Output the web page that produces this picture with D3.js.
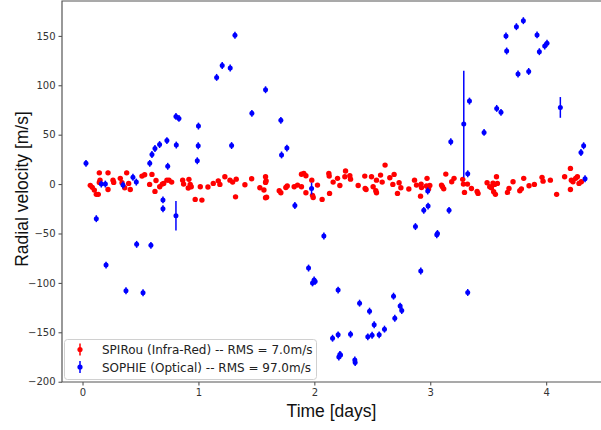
<!DOCTYPE html>
<html>
<head>
<meta charset="utf-8">
<script src="https://cdn.jsdelivr.net/npm/d3@7"></script>
<style>
    body { margin: 0; background: #fff; }
    #rv-graph { width: 601px; height: 430px; }
</style>
</head>
<body>
<div id="rv-graph"></div>
<script>
// SPIRou (infra-red) measurements: [time in days, radial velocity in m/s]
const spirouPoints = [
    [0.067, -1.3], [0.084, -3.3], [0.102, -6.1], [0.119, -10.4], [0.136, -10.4],
    [0.145, 11.4], [0.151, 4.0], [0.145, 1.7], [0.22, 11.4], [0.22, -5.4],
    [0.263, 4.0], [0.269, 1.7], [0.326, 5.8], [0.341, 1.3], [0.381, 11.4],
    [0.398, 0.7], [0.364, -3.7], [0.412, -5.4], [0.513, 8.1], [0.536, 9.4],
    [0.579, -0.3], [0.599, 9.8], [0.634, 3.7], [0.625, -7.4], [0.666, -2.7],
    [0.688, 0], [0.7, 0.7], [0.728, 4.0], [0.746, 4.0], [0.769, 2.0],
    [0.864, 4.0], [0.872, 0], [0.918, 4.8], [0.929, -0.3], [0.938, -2.7],
    [0.912, -4.0], [0.972, -15.5], [1.03, -16.2], [1.016, -2.7], [1.082, -3],
    [1.128, 0.7], [1.171, 3.3], [1.185, -0.3], [1.228, 7.4], [1.272, 4],
    [1.295, 2], [1.326, 5], [1.32, -12.9], [1.401, -0.7], [1.459, 5.4],
    [1.53, -3.7], [1.565, -6], [1.579, 1.7], [1.584, 3.3], [1.579, 7.4],
    [1.579, -13.9], [1.588, -13.2], [1.697, -6.8], [1.711, -8.8], [1.754, -3.4],
    [1.766, -2], [1.826, -2.7], [1.855, -1], [1.889, 10], [1.909, 10.8],
    [1.927, 8.4], [1.889, -2.7], [1.927, -8.8], [1.978, 4], [1.984, -11.4],
    [1.99, -13.5], [2.027, -1], [2.067, -15.5], [2.125, 10.8], [2.128, 8.1],
    [2.131, -9.4], [2.162, 2], [2.2, 5.8], [2.22, -1.4], [2.263, 7.4],
    [2.269, 13.2], [2.306, 8.4], [2.312, 5], [2.378, -1.4], [2.435, 8.1],
    [2.438, -4.4], [2.446, -5.4], [2.493, 7.4], [2.507, -2.7], [2.53, -6.8],
    [2.536, -8.8], [2.536, 4], [2.571, 9.1], [2.585, 2], [2.61, 19.2],
    [2.651, 6.4], [2.677, -0.3], [2.688, 9.8], [2.717, -9.4], [2.731, 1.3],
    [2.746, -3.7], [2.815, -5], [2.864, 4], [2.881, -1], [2.916, -12.2],
    [2.921, 0], [2.924, -3.4], [2.972, 5.8], [2.967, -2], [2.98, -2.7],
    [2.996, -1.4], [2.985, -5], [3.097, -1], [3.116, -4.8], [3.105, -2.7],
    [3.134, 10.1], [3.185, 2.3], [3.205, 5.8], [3.28, 4.8], [3.286, 0],
    [3.295, -8.4], [3.321, 0], [3.355, -4.4], [3.404, -7.4], [3.412, -9.4],
    [3.49, 1.3], [3.513, -2.7], [3.528, -3.7], [3.541, 1], [3.556, -0.3],
    [3.571, 7.4], [3.579, 0.7], [3.547, -7.8], [3.562, -10.4], [3.666, -8.4],
    [3.679, -4.4], [3.714, 2.3], [3.772, -6.8], [3.786, -4.8], [3.806, 5.8],
    [3.852, -1.7], [3.898, -0.3], [3.964, 6.8], [3.973, 3], [4.036, 4],
    [4.09, -10.4], [4.159, 7.4], [4.209, 15.9], [4.209, -5.4], [4.217, 4],
    [4.231, 2.3], [4.254, 5.8], [4.269, 7.4], [4.283, 0.7], [4.303, 2.3]
];
const spirouErr = 2;

// SOPHIE (optical) measurements: [time in days, radial velocity in m/s, error in m/s]
const sophiePoints = [
    [0.03, 21, 3.5], [0.119, -35, 3.5], [0.162, 0, 3.5], [0.197, 0, 3.5], [0.203, -82, 3.5],
    [0.349, -1, 3.5], [0.375, -108, 3.5], [0.435, 7, 3.5], [0.464, 2, 3.5], [0.467, -61, 3.5],
    [0.522, -110, 3.5], [0.58, 21, 3.5], [0.59, -62, 3.5], [0.599, 30, 3.5], [0.625, 36, 3.5],
    [0.665, 40, 3.5], [0.694, -16, 3.5], [0.694, -25, 3.5], [0.728, 44, 3.5], [0.735, 18, 3.5],
    [0.806, 68.5, 3.5], [0.806, -32, 15], [0.809, 39.5, 3.5], [0.832, 66.5, 3.5], [0.99, 23.6, 3.5],
    [0.998, 38.8, 3.5], [1.0, 58.7, 3.5], [1.157, 108, 3.5], [1.205, 120, 3.5], [1.274, 117.5, 3.5],
    [1.286, 39, 3.5], [1.315, 150.6, 3.5], [1.461, 71.6, 3.5], [1.579, 95.5, 3.5], [1.711, 64.5, 3.5],
    [1.717, 29.5, 3.5], [1.763, 36.4, 3.5], [1.832, -21.6, 3.5], [1.95, -85, 3.5], [1.976, -4.5, 6],
    [1.984, -100, 3.5], [1.998, -97, 3.5], [2.007, -98.5, 3.5], [2.082, -52.6, 3.5], [2.157, -156, 3.5],
    [2.205, -107.3, 3.5], [2.205, -152.6, 3.5], [2.211, -175, 3.5], [2.22, -172.4, 3.5], [2.226, -173, 3.5],
    [2.312, -152, 3.5], [2.349, -178, 3.5], [2.352, -180.5, 3.5], [2.39, -120.5, 3.5], [2.461, -154.6, 3.5],
    [2.476, -128.6, 3.5], [2.498, -153, 3.5], [2.516, -142.4, 3.5], [2.559, -152.6, 3.5], [2.605, -146.8, 3.5],
    [2.683, -113.4, 3.5], [2.694, -135.7, 3.5], [2.74, -123.5, 3.5], [2.754, -128, 3.5], [2.872, -43, 3.5],
    [2.918, -88, 3.5], [2.944, -26.6, 3.5], [2.978, -7, 3.5], [2.981, -22.3, 3.5], [3.056, -51.3, 3.5],
    [3.062, -50, 3.5], [3.162, -26.6, 3.5], [3.177, 42.8, 3.5], [3.289, 60.7, 54], [3.323, 10.4, 3.5],
    [3.323, -109.7, 3.5], [3.338, 84, 3.5], [3.464, 52.3, 3.5], [3.573, 76.6, 3.5], [3.61, 72.6, 3.5],
    [3.653, 150, 3.5], [3.659, 134.7, 3.5], [3.743, 159.3, 3.5], [3.757, 111.4, 3.5], [3.803, 165.4, 3.5],
    [3.849, 114, 3.5], [3.921, 151, 3.5], [3.941, 134, 3.5], [3.987, 139.7, 3.5], [4.007, 142.5, 3.5],
    [4.122, 77.6, 10.5], [4.3, 32, 3.5], [4.323, 38.8, 3.5], [4.335, 5.4, 3.5]
];

const xTicks = [0, 1, 2, 3, 4];
const yTicks = [-200, -150, -100, -50, 0, 50, 100, 150];
const legendLabels = ["SPIRou (Infra-Red) -- RMS = 7.0m/s", "SOPHIE (Optical) -- RMS = 97.0m/s"];
const colors = ["#ff0000", "#0000ff"];

/**
 * Sets up the svg and the plot box.
 */
function initializeSVG() {
    const box = { left: 62, top: 1, right: 603, bottom: 382 };
    const svg = d3.select("#rv-graph")
        .append("svg")
        .attr("width", 601)
        .attr("height", 430);
    return { svg, box };
}

/**
 * Creates the x and y scales.
 */
function createScales(box) {
    const x = d3.scaleLinear()
        .domain([-0.177, 4.49])
        .range([box.left, box.right]);
    const y = d3.scaleLinear()
        .domain([-200.3, 185.3])
        .range([box.bottom, box.top]);
    return { x, y };
}

/**
 * Draws the axes, the frame and the axis titles.
 */
function appendAxes(svg, box, x, y) {
    const fmt = d => String(d).replace("-", "\u2212");
    const gx = svg.append("g")
        .attr("transform", `translate(0,${box.bottom})`)
        .call(d3.axisBottom(x).tickValues(xTicks).tickSize(3.5).tickPadding(3).tickFormat(fmt));
    const gy = svg.append("g")
        .attr("transform", `translate(${box.left},0)`)
        .call(d3.axisLeft(y).tickValues(yTicks).tickSize(3.5).tickPadding(3).tickFormat(fmt));
    [gx, gy].forEach(g => {
        g.select(".domain").remove();
        g.selectAll("line").attr("stroke", "#444");
        g.selectAll("text")
            .attr("fill", "#333")
            .attr("font-family", "DejaVu Sans")
            .attr("font-size", 10);
    });

    // frame (top, left, bottom)
    svg.append("path")
        .attr("d", `M${box.right},${box.top}H${box.left}V${box.bottom}H${box.right}`)
        .attr("fill", "none")
        .attr("stroke", "#555")
        .attr("stroke-width", 1.2);

    svg.append("text")
        .attr("x", (box.left + 601) / 2)
        .attr("y", 417)
        .attr("text-anchor", "middle")
        .attr("font-family", "Liberation Sans, Arial, sans-serif")
        .attr("font-size", 17.5)
        .attr("fill", "#111")
        .text("Time [days]");
    svg.append("text")
        .attr("transform", "translate(28,189) rotate(-90)")
        .attr("text-anchor", "middle")
        .attr("font-family", "Liberation Sans, Arial, sans-serif")
        .attr("font-size", 17.5)
        .attr("fill", "#111")
        .text("Radial velocity [m/s]");
}

/**
 * Draws one series as dots with vertical error bars.
 */
function drawErrorbars(svg, points, x, y, color, errOf, r) {
    const g = svg.append("g");
    g.selectAll("line")
        .data(points)
        .enter().append("line")
        .attr("x1", d => x(d[0]))
        .attr("x2", d => x(d[0]))
        .attr("y1", d => y(d[1] - errOf(d)))
        .attr("y2", d => y(d[1] + errOf(d)))
        .attr("stroke", color)
        .attr("stroke-width", 1.5);
    g.selectAll("circle")
        .data(points)
        .enter().append("circle")
        .attr("cx", d => x(d[0]))
        .attr("cy", d => y(d[1]))
        .attr("r", r)
        .attr("fill", color);
}

/**
 * Legend in the lower left corner.
 */
function drawLegend(svg) {
    const lg = svg.append("g");
    lg.append("rect")
        .attr("x", 64.5)
        .attr("y", 339.5)
        .attr("width", 252)
        .attr("height", 40)
        .attr("rx", 3)
        .attr("fill", "white")
        .attr("fill-opacity", 0.8)
        .attr("stroke", "#d0d0d0");
    const item = lg.selectAll("g")
        .data(legendLabels)
        .enter().append("g")
        .attr("transform", (d, i) => `translate(80,${349.5 + i * 17.5})`);
    item.append("line")
        .attr("y1", -6).attr("y2", 6)
        .attr("stroke", (d, i) => colors[i])
        .attr("stroke-width", 1.5);
    item.append("circle")
        .attr("r", 2.6)
        .attr("fill", (d, i) => colors[i]);
    item.append("text")
        .attr("x", 22)
        .attr("y", 4.5)
        .attr("font-family", "DejaVu Sans")
        .attr("font-size", 12)
        .attr("fill", "#222")
        .text(d => d);
}

function addRvGraph() {
    const { svg, box } = initializeSVG();
    const { x, y } = createScales(box);
    appendAxes(svg, box, x, y);
    drawErrorbars(svg, spirouPoints, x, y, colors[0], () => spirouErr, 2.7);
    drawErrorbars(svg, sophiePoints, x, y, colors[1], d => d[2], 2.5);
    drawLegend(svg);
}

addRvGraph();
</script>
</body>
</html>
